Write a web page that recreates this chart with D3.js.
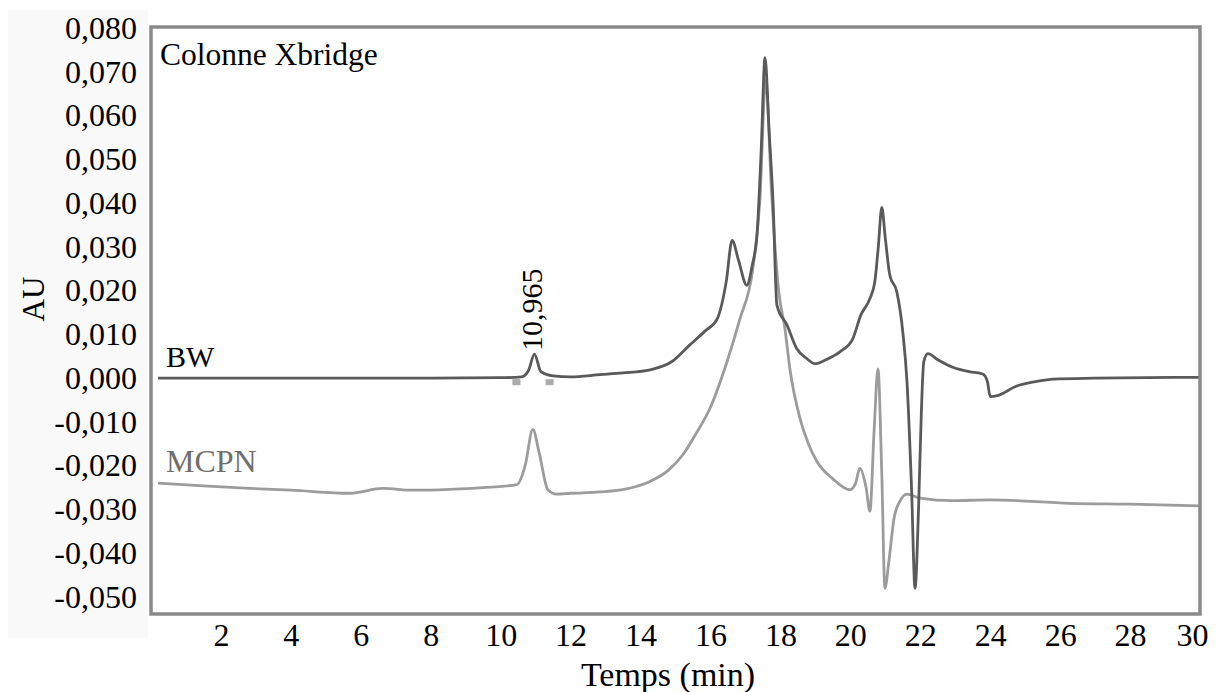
<!DOCTYPE html>
<html>
<head>
<meta charset="utf-8">
<script src="https://cdn.jsdelivr.net/npm/d3@7"></script>
<style>
  body { margin: 0; background: #fff; }
  svg text { font-family: 'Liberation Serif', 'DejaVu Serif', serif; }
</style>
</head>
<body>
<div id="chart"></div>
<script>
// tick values
const xTicks = [2, 4, 6, 8, 10, 12, 14, 16, 18, 20, 22, 24, 26, 28, 30];
const yTicks = [0.08, 0.07, 0.06, 0.05, 0.04, 0.03, 0.02, 0.01, 0, -0.01, -0.02, -0.03, -0.04, -0.05];

// BW trace: [time (min), absorbance x 1000]
const bwSeries = [
  [0.2,0],[2,0],[4,0],[6,0],[8,0],[10,0.1],[10.6,0.3],[10.8,1.8],[10.965,5.5],[11.15,1.5],
  [11.5,0.5],[12,0.3],[12.84,0.8],[13.5,1.2],[14.27,1.9],[14.9,3.8],[15.41,7.6],[15.85,10.8],
  [16.19,13.5],[16.45,22],[16.62,31.5],[16.8,27],[17.04,21.2],[17.2,26],[17.33,32.6],[17.45,52],
  [17.56,73.2],[17.68,56],[17.79,40.2],[17.9,16.7],[18.19,12.1],[18.47,6.7],[18.75,4.5],[18.99,3.3],
  [19.3,4.2],[19.7,6.0],[20.07,9.0],[20.3,14.4],[20.55,18],[20.7,22],[20.8,30],[20.9,39.0],[21.0,32],
  [21.13,23.5],[21.33,19.7],[21.5,10.6],[21.62,-0.8],[21.75,-25],[21.85,-48],[21.95,-30],[22.03,-8],
  [22.1,3.7],[22.22,5.6],[22.5,4.2],[22.93,2.5],[23.4,1.5],[23.8,0.9],[23.92,-0.8],[24.0,-4.2],
  [24.2,-4.0],[24.76,-1.8],[25.3,-0.8],[25.8,-0.2],[27,0],[30,0.2]
];

// MCPN trace: [time (min), absorbance x 1000]
const mcpnSeries = [
  [0.2,-24],[1.5,-24.6],[2.83,-25.2],[4,-25.6],[5.69,-26.3],[6.63,-25.2],[7.5,-25.6],[8.55,-25.4],
  [9.5,-25],[10.47,-24.3],[10.7,-20],[10.92,-11.7],[11.1,-17],[11.35,-25.5],[11.6,-26.5],[12,-26.3],
  [12.84,-26.0],[13.6,-25.3],[14.27,-23.6],[14.8,-21],[15.21,-17.5],[15.6,-12.5],[15.98,-7.0],
  [16.47,3.7],[16.84,13.5],[17.21,24.9],[17.41,40.2],[17.58,68],[17.75,42],[17.95,20],[18.13,11.3],
  [18.27,2.2],[18.56,-9.2],[18.8,-15],[19.04,-19.0],[19.5,-23],[19.99,-25.5],[20.15,-24],[20.27,-20.6],
  [20.45,-25],[20.56,-30.4],[20.68,-12],[20.79,2.1],[20.9,-22],[20.99,-48],[21.1,-42],[21.25,-32],
  [21.42,-28.1],[21.62,-26.5],[21.99,-27.4],[22.93,-28.0],[24,-27.8],[26.28,-28.6],[28,-28.8],[30,-29.2]
];

// integration marks on BW baseline (min)
const bwMarks = [10.45, 11.4];
const peakLabel = { t: 10.965, v: 5.5, text: "10,965" };

const width = 1217, height = 692;
const plot = { left: 151, top: 27, right: 1200, bottom: 614 };
const serif = "'Liberation Serif', 'DejaVu Serif', serif";

const svg = d3.select("#chart").append("svg")
  .attr("width", width)
  .attr("height", height);

// light panel behind the y labels
svg.append("rect")
  .attr("x", 8).attr("y", 10)
  .attr("width", 140).attr("height", 628)
  .attr("fill", "#f9f9f9");

const xScale = d3.scaleLinear().domain([0, 30]).range([plot.left, plot.right]);
const yScale = d3.scaleLinear().domain([-0.05, 0.08]).range([597, 28]);

// y axis labels (no tick lines)
const yAxis = d3.axisLeft(yScale)
  .tickValues(yTicks)
  .tickSize(0)
  .tickPadding(14)
  .tickFormat(d => d3.format(".3f")(d).replace(".", ",").replace("−", "-"));

svg.append("g")
  .attr("transform", `translate(${plot.left},0)`)
  .call(yAxis)
  .attr("font-family", null)
  .call(g => g.select(".domain").remove())
  .selectAll("text")
  .style("font-family", serif)
  .style("font-size", "32px")
  .attr("fill", "#000");

const xAxis = d3.axisBottom(xScale)
  .tickValues(xTicks)
  .tickSize(0)
  .tickPadding(9);

svg.append("g")
  .attr("transform", `translate(0,${plot.bottom})`)
  .call(xAxis)
  .attr("font-family", null)
  .call(g => g.select(".domain").remove())
  .selectAll("text")
  .style("font-family", serif)
  .style("font-size", "32px")
  .attr("fill", "#000")
  .attr("dx", d => d === 30 ? -8 : 0); // last label sits just inside the frame

// axis titles
svg.append("text")
  .attr("x", 668)
  .attr("y", 686)
  .attr("text-anchor", "middle")
  .style("font-family", serif)
  .style("font-size", "34px")
  .text("Temps (min)");

svg.append("text")
  .attr("transform", "translate(44,299) rotate(-90)")
  .attr("text-anchor", "middle")
  .style("font-family", serif)
  .style("font-size", "31px")
  .text("AU");

// traces
const line = d3.line()
  .x(d => xScale(d[0]))
  .y(d => yScale(d[1] / 1000))
  .curve(d3.curveMonotoneX);

svg.append("path")
  .datum(mcpnSeries)
  .attr("d", line)
  .attr("fill", "none")
  .attr("stroke", "#9c9c9c")
  .attr("stroke-width", 2.8)
  .attr("stroke-linejoin", "round");

svg.append("path")
  .datum(bwSeries)
  .attr("d", line)
  .attr("fill", "none")
  .attr("stroke", "#5a5a5a")
  .attr("stroke-width", 2.8)
  .attr("stroke-linejoin", "round");

// integration marks
svg.selectAll(".mark")
  .data(bwMarks)
  .join("rect")
  .attr("class", "mark")
  .attr("x", d => xScale(d) - 4)
  .attr("y", yScale(0) + 1)
  .attr("width", 8)
  .attr("height", 6)
  .attr("fill", "#aaa");

// peak label
svg.append("text")
  .attr("transform", `translate(${xScale(peakLabel.t) + 7.5},${yScale(peakLabel.v / 1000) - 3}) rotate(-90)`)
  .style("font-family", serif)
  .style("font-size", "30px")
  .text(peakLabel.text);

// frame
svg.append("rect")
  .attr("x", plot.left).attr("y", plot.top)
  .attr("width", plot.right - plot.left)
  .attr("height", plot.bottom - plot.top)
  .attr("fill", "none")
  .attr("stroke", "#8a8a8a")
  .attr("stroke-width", 3.5);

// annotations
svg.append("text")
  .attr("x", 160).attr("y", 65)
  .style("font-family", serif)
  .style("font-size", "31.5px")
  .text("Colonne Xbridge");

svg.append("text")
  .attr("x", 166).attr("y", 367)
  .style("font-family", serif)
  .style("font-size", "30px")
  .text("BW");

svg.append("text")
  .attr("x", 166).attr("y", 472)
  .style("font-family", serif)
  .style("font-size", "32px")
  .attr("fill", "#6e6e6e")
  .text("MCPN");
</script>
</body>
</html>
